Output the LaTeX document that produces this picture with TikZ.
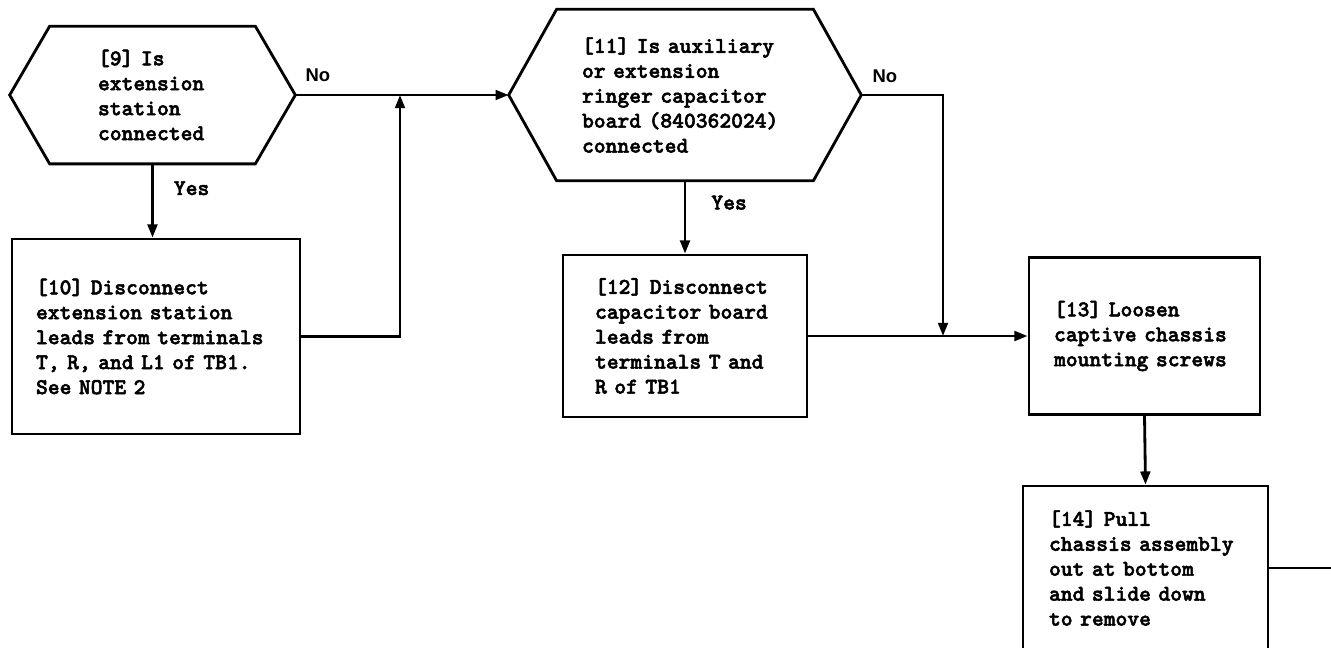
\documentclass[tikz,border=0pt]{standalone}
\usepackage{fontspec}
\newfontfamily\typefont{lmmonolt10-bold}[Extension=.otf, FakeBold=2.2]
\newfontfamily\labelfont{Liberation Sans}
\usetikzlibrary{arrows.meta,positioning}

\begin{document}
\begin{tikzpicture}[x=0.02cm, y=-0.02cm,
    decision/.style={inner sep=0pt, align=left,
                 font=\typefont\fontsize{12.8}{14.2}\selectfont},
    stepbox/.style={draw, line width=1.6pt, inner ysep=0pt, align=left,
                 font=\typefont\fontsize{12.8}{14.2}\selectfont},
    outline/.style={line width=1.6pt, line join=miter},
    arr/.style={-{Triangle[length=7.5pt,width=5.5pt]}, line width=1.6pt},
    plain/.style={line width=1.6pt},
    nolbl/.style={inner sep=0pt, font=\labelfont\bfseries\fontsize{10.5}{12}\selectfont},
    yeslbl/.style={inner sep=0pt, font=\typefont\fontsize{12.8}{14}\selectfont}
]
\useasboundingbox (0,0) rectangle (1331,647);
\clip (0,0) rectangle (1331,647);

% decisions
\node[decision, minimum width=5.7cm, minimum height=2.74cm, text width=2.18cm] (h9) at (152.5,95)
    {[9] Is\\extension\\station\\connected};
\node[decision, minimum width=7.04cm, minimum height=3.42cm, text width=4.12cm] (h11) at (685,95)
    {[11] Is auxiliary\\or extension\\ringer capacitor\\board (840362024)\\connected};

\draw[outline] (h9.west) -- ([xshift=0.8cm]h9.north west) -- ([xshift=-0.8cm]h9.north east)
    -- (h9.east) -- ([xshift=-0.8cm]h9.south east) -- ([xshift=0.8cm]h9.south west) -- cycle;
\draw[outline] (h11.west) -- ([xshift=0.96cm]h11.north west) -- ([xshift=-0.96cm]h11.north east)
    -- (h11.east) -- ([xshift=-0.96cm]h11.south east) -- ([xshift=0.96cm]h11.south west) -- cycle;

% steps
\node[stepbox, text width=4.8cm, inner xsep=0.48cm, minimum height=3.9cm] (b10) at (156,336.5)
    {[10] Disconnect\\extension station\\leads from terminals\\T, R, and L1 of TB1.\\See NOTE 2};
\node[stepbox, text width=3.6cm, inner xsep=0.64cm, minimum height=3.24cm] (b12) at (685,336)
    {[12] Disconnect\\capacitor board\\leads from\\terminals T and\\R of TB1};
\node[stepbox, text width=3.62cm, inner xsep=0.5cm, minimum height=3.14cm] (b13) at (1144.5,336)
    {[13] Loosen\\captive chassis\\mounting screws};
\node[stepbox, text width=3.86cm, inner xsep=0.52cm, minimum height=3.28cm] (b14) at (1145.5,568)
    {[14] Pull\\chassis assembly\\out at bottom\\and slide down\\to remove};

% junctions
\coordinate (j10) at (400,95);
\coordinate (j12) at (943,336);
\coordinate (out14) at (1331,568);

% labels
\node[nolbl, above right=0.26cm and 0.2cm of h9.east] (no9) {No};
\node[nolbl, above right=0.24cm and 0.22cm of h11.east] (no11) {No};

% connectors
\draw[arr] (h9.east) -- (h11.west);
\draw[arr] (h9.south) -- node[yeslbl, pos=0.33, right=0.4cm] (yes9) {Yes} (h9.south |- b10.north);
\draw[arr] (b10.east) -| (j10);
\draw[arr] (h11.south) -- node[yeslbl, pos=0.3, right=0.5cm] (yes11) {Yes} (b12.north);
\draw[arr] (h11.east) -| (j12);
\draw[arr] (b12.east) -- (b13.west);
\draw[arr] (b13.south) -- (b14.north);
\draw[plain] (b14.east) -- (out14);
\end{tikzpicture}
\end{document}
